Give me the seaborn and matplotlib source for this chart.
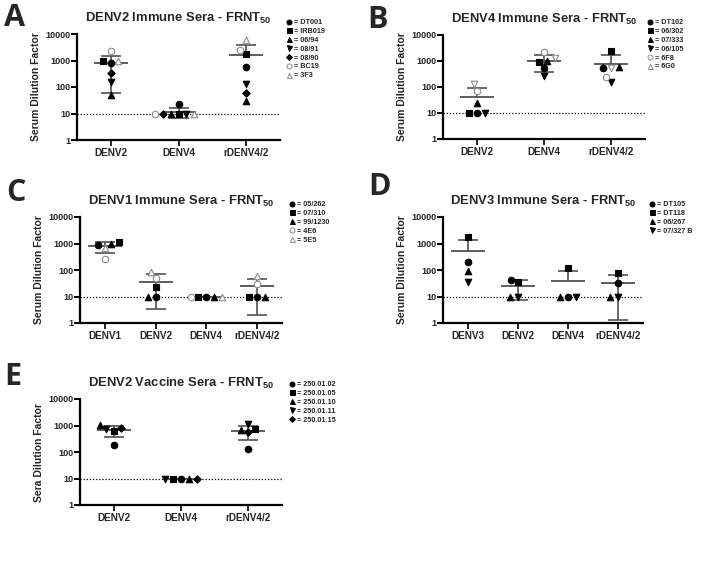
"""
FRNT50 neutralisation titres of immune / vaccine sera against
DENV parental and chimeric rDENV4/2 viruses (5 panels).
"""
import matplotlib
matplotlib.use("Agg")
import matplotlib.pyplot as plt
from matplotlib.lines import Line2D
from matplotlib.ticker import LogLocator, NullFormatter
import numpy as np
import pandas as pd
import seaborn as sns

sns.set_style("ticks")
plt.rcParams["font.family"] = ["Liberation Sans", "DejaVu Sans"]
plt.rcParams["mathtext.fontset"] = "custom"
plt.rcParams["mathtext.rm"] = "Liberation Sans"
plt.rcParams["mathtext.bf"] = "Liberation Sans:bold"

# ---- data (titres, one row per serum) ----
A_VIRUSES = ["DENV2", "DENV4", "rDENV4/2"]
A_SERA = ["DT001", "IRB019", "06/94", "08/91", "08/90", "BC19", "3F3"]
A_TITERS = [[800, 23, 550], [1000, 10, 1700], [50, 10, 30], [150, 10, 130],
            [350, 10, 60], [2200, 10, 2500], [1000, 10, 6000]]

B_VIRUSES = ["DENV2", "DENV4", "rDENV4/2"]
B_SERA = ["DT102", "06/302", "07/333", "06/105", "6F8", "6G0"]
B_TITERS = [[10, 550, 550], [10, 900, 2500], [25, 1000, 600], [10, 270, 160],
            [70, 2200, 250], [130, 1300, 550]]

C_VIRUSES = ["DENV1", "DENV2", "DENV4", "rDENV4/2"]
C_SERA = ["05/262", "07/310", "99/1230", "4E6", "5E5"]
C_TITERS = [[850, 10, 10, 10], [1150, 23, 10, 10], [1000, 10, 10, 10],
            [250, 50, 10, 30], [650, 85, 10, 60]]

D_VIRUSES = ["DENV3", "DENV2", "DENV4", "rDENV4/2"]
D_SERA = ["DT105", "DT118", "06/267", "07/327 B"]
D_TITERS = [[200, 43, 10, 33], [1700, 35, 120, 75], [90, 10, 10, 10],
            [35, 10, 10, 10]]

E_VIRUSES = ["DENV2", "DENV4", "rDENV4/2"]
E_SERA = ["250.01.02", "250.01.05", "250.01.10", "250.01.11", "250.01.15"]
E_TITERS = [[180, 10, 130], [600, 10, 750], [1050, 10, 700], [750, 10, 1100],
            [800, 10, 550]]

# marker codes: "w" prefix = open grey symbol
A_MARKERS = ["o", "s", "^", "v", "D", "wo", "w^"]
B_MARKERS = ["o", "s", "^", "v", "wo", "wv"]
B_LEG_MARKERS = ["o", "s", "^", "v", "wo", "w^"]
C_MARKERS = ["o", "s", "^", "wo", "w^"]
D_MARKERS = ["o", "s", "^", "v"]
E_MARKERS = ["o", "s", "^", "v", "D"]

W, H = 705, 563
GREY = "#8c8c8c"
BAR = "#505050"

PANELS = [
    dict(letter="A", lxy=(4, 3), title="DENV2 Immune Sera", ylabel="Serum Dilution Factor",
         viruses=A_VIRUSES, sera=A_SERA, titers=A_TITERS, markers=A_MARKERS,
         leg_markers=A_MARKERS, box=(77, 34, 280, 140), leg=(286, 19)),
    dict(letter="B", lxy=(367, 5), title="DENV4 Immune Sera", ylabel="Serum Dilution Factor",
         viruses=B_VIRUSES, sera=B_SERA, titers=B_TITERS, markers=B_MARKERS,
         leg_markers=B_LEG_MARKERS, box=(443, 35, 645, 139), leg=(647, 19)),
    dict(letter="C", lxy=(6, 178), title="DENV1 Immune Sera", ylabel="Serum Dilution Factor",
         viruses=C_VIRUSES, sera=C_SERA, titers=C_TITERS, markers=C_MARKERS,
         leg_markers=C_MARKERS, box=(80, 217, 282, 323), leg=(289, 201)),
    dict(letter="D", lxy=(368, 172), title="DENV3 Immune Sera", ylabel="Serum Dilution Factor",
         viruses=D_VIRUSES, sera=D_SERA, titers=D_TITERS, markers=D_MARKERS,
         leg_markers=D_MARKERS, box=(443, 217, 643, 323), leg=(649, 201)),
    dict(letter="E", lxy=(4, 362), title="DENV2 Vaccine Sera", ylabel="Sera Dilution Factor",
         viruses=E_VIRUSES, sera=E_SERA, titers=E_TITERS, markers=E_MARKERS,
         leg_markers=E_MARKERS, box=(80, 399, 282, 505), leg=(289, 381)),
]


def mstyle(code):
    if code.startswith("w"):
        return code[1:], "white", GREY
    return code, "black", "black"


fig = plt.figure(figsize=(W / 100, H / 100), dpi=100)
axes = []

for p in PANELS:
    l, t, r, b = p["box"]
    ax = fig.add_axes([l / W, 1 - b / H, (r - l) / W, (b - t) / H])
    axes.append(ax)
    n = len(p["viruses"])
    df = pd.DataFrame(p["titers"], columns=p["viruses"])
    df["serum"] = p["sera"]
    df["idx"] = range(len(p["sera"]))
    long = df.melt(id_vars=["serum", "idx"], var_name="virus", value_name="titer")
    p["long"] = long

    # beeswarm positions from seaborn, symbols redrawn per serum afterwards
    sns.swarmplot(data=long, x="virus", y="titer", order=p["viruses"], size=5.4,
                  color="k", ax=ax, log_scale=(False, True), warn_thresh=1)
    ax.set_ylim(1, 10000)
    ax.set_xlim(-0.5, n - 0.5)

fig.canvas.draw()

for ax, p in zip(axes, PANELS):
    l, t, r, b = p["box"]
    n = len(p["viruses"])
    ppu = (r - l) / n
    long = p["long"]
    xpos = np.zeros(len(long))
    for coll in list(ax.collections):
        offs = np.asarray(coll.get_offsets())
        if len(offs) == 0:
            coll.remove()
            continue
        cat = int(round(np.mean(offs[:, 0])))
        rows = np.where(long["virus"].values == p["viruses"][cat])[0]
        xpos[rows] = offs[:, 0]
        coll.remove()
    long = long.assign(xpos=xpos)

    ax.axhline(10, ls=(0, (1, 1.5)), color="k", lw=0.9, zorder=1)

    # mean +/- SD (lower arm omitted when it falls below zero)
    hw, cw = 17 / ppu, 10 / ppu
    for i, v in enumerate(p["viruses"]):
        vals = long.loc[long["virus"] == v, "titer"].to_numpy(float)
        m, sd = vals.mean(), vals.std(ddof=1)
        ax.hlines(m, i - hw, i + hw, color=BAR, lw=1.3, zorder=2)
        if sd > 0:
            top = m + sd
            bot = m - sd if m - sd > 0 else m
            ax.vlines(i, bot, top, color=BAR, lw=1.2, zorder=2)
            ax.hlines(top, i - cw, i + cw, color=BAR, lw=1.2, zorder=2)
            if m - sd > 0:
                ax.hlines(m - sd, i - cw, i + cw, color=BAR, lw=1.2, zorder=2)

    for k, code in enumerate(p["markers"]):
        mk, fc, ec = mstyle(code)
        sub = long[long["idx"] == k]
        s = 14 if mk == "D" else 22
        ax.scatter(sub["xpos"], sub["titer"], marker=mk, s=s, facecolor=fc,
                   edgecolor=ec, linewidth=0.8, zorder=3)

    # axes cosmetics (GraphPad look)
    sns.despine(ax=ax)
    for side in ["left", "bottom"]:
        ax.spines[side].set_linewidth(1.6)
        ax.spines[side].set_color("black")
    ax.set_yscale("log")
    ax.set_ylim(1, 10000)
    ax.set_xlim(-0.5, n - 0.5)
    ax.set_yticks([1, 10, 100, 1000, 10000], ["1", "10", "100", "1000", "10000"],
                  fontweight="bold", fontsize=6.5)
    ax.yaxis.set_minor_locator(LogLocator(base=10, subs=np.arange(2, 10)))
    ax.yaxis.set_minor_formatter(NullFormatter())
    ax.set_xticks(range(n), p["viruses"], fontweight="bold", fontsize=7.2)
    ax.tick_params(axis="y", which="major", length=4, width=1.4, pad=1, color="black")
    ax.tick_params(axis="y", which="minor", length=2.5, width=0.9, color="black")
    ax.tick_params(axis="x", length=4, width=1.2, pad=2, color="black")
    ax.set_xlabel("")
    ax.set_ylabel(p["ylabel"], fontsize=7.5, fontweight="bold", labelpad=3)
    ax.set_title(p["title"] + r" - FRNT$_{\mathbf{50}}$", fontsize=9.4,
                 fontweight="bold", pad=9)

    handles = []
    for name, code in zip(p["sera"], p["leg_markers"]):
        mk, fc, ec = mstyle(code)
        handles.append(Line2D([], [], ls="none", marker=mk, ms=3.6 if mk != "D" else 3,
                              mfc=fc, mec=ec, mew=0.7, label="= " + name))
    lx, ly = p["leg"]
    ax.legend(handles=handles, loc="upper left", bbox_to_anchor=(lx / W, 1 - ly / H),
              bbox_transform=fig.transFigure, frameon=False,
              prop={"size": 5.2, "weight": "bold"}, handlelength=0.7,
              handletextpad=0.4, labelspacing=0.25, borderpad=0, borderaxespad=0)

    fig.text(p["lxy"][0] / W, 1 - p["lxy"][1] / H, p["letter"], fontsize=22,
             fontweight="bold", family=["Open Sans", "DejaVu Sans"],
             ha="left", va="top")

fig.savefig("out.png", dpi=100)
